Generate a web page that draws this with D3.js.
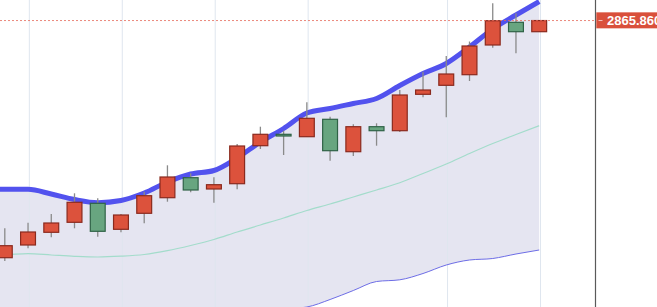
<!DOCTYPE html>
<html>
<head>
<meta charset="utf-8">
<script src="https://cdn.jsdelivr.net/npm/d3@7"></script>
<style>
  html, body { margin: 0; padding: 0; background: #ffffff; overflow: hidden; }
  svg { display: block; }
</style>
</head>
<body>
<svg id="chart" width="657" height="307"></svg>
<script>
// ---- data ----
const days = ["d01","d02","d03","d04","d05","d06","d07","d08","d09","d10","d11","d12",
              "d13","d14","d15","d16","d17","d18","d19","d20","d21","d22","d23","d24"];
const opens  = [2628.7,2641.4,2654.1,2664.1,2683.1,2657.1,2673.1,2688.7,2708.7,2697.4,2702.7,2740.7,
                2752.1,2749.7,2767.1,2734.7,2759.7,2755.7,2792.1,2801.1,2811.7,2841.4,2864.1,2854.7];
const closes = [2640.7,2654.4,2663.4,2684.1,2655.1,2671.4,2690.7,2709.4,2696.4,2701.7,2740.4,2752.1,
                2750.4,2768.1,2735.7,2759.7,2755.7,2791.4,2796.4,2812.4,2840.4,2865.7,2854.7,2865.86];
const lows   = [2625.4,2638.1,2649.1,2658.1,2649.7,2654.1,2663.1,2684.7,2694.1,2683.7,2697.1,2737.4,
                2731.4,2749.7,2725.7,2730.4,2740.7,2754.4,2789.1,2769.1,2805.4,2838.7,2833.1,2854.7];
const highs  = [2658.1,2663.7,2672.4,2693.1,2688.1,2672.4,2694.7,2721.1,2713.1,2709.1,2742.4,2759.7,
                2755.7,2784.1,2769.7,2762.1,2763.1,2796.4,2814.7,2830.4,2844.9,2883.1,2873.1,2865.86];
// Bollinger bands; first value belongs to the (off-screen) day before d01
const bandDays = ["d00"].concat(days);
const upper  = [2697.1,2697.1,2697.1,2692.4,2686.9,2683.7,2685.9,2693.4,2704.4,2712.4,2715.9,2728.4,2744.4,
                2757.9,2773.4,2777.9,2782.9,2787.9,2800.9,2812.9,2822.9,2839.4,2857.4,2871.4,2884.9];
const middle = [2631.5,2631.7,2632.7,2631.4,2630.1,2629.4,2630.2,2631.9,2635.7,2640.9,2646.9,2654.4,2661.4,
                2668.4,2675.9,2682.4,2689.4,2696.4,2703.7,2712.9,2722.4,2732.9,2742.9,2751.9,2760.7];
const lower  = [2566.0,2566.3,2568.3,2570.4,2573.3,2575.1,2574.5,2570.4,2567.0,2569.4,2576.4,2577.4,2576.9,
                2577.4,2579.4,2586.9,2595.9,2604.9,2606.6,2612.9,2621.4,2626.4,2627.9,2632.4,2636.4];
const gridDays = ["d02","d06","d10","d14","d20","d24"];
const lastPrice = 2865.86;
const lastLabel = "2865.860";

// ---- layout ----
const W = 657, H = 307;
const axisX = 595.5;
const svg = d3.select("#chart");

const idx = d => days.indexOf(d);
const xi = d3.scaleLinear().domain([0, days.length - 1]).range([4.8, 539.2]);
const x = d => xi(d === "d00" ? -1 : idx(d));
const y = d3.scaleLinear().domain([2579.4, 2886.4]).range([H, 0]);
const step = xi(1) - xi(0);
const bodyW = step * 0.64;

const defs = svg.append("defs");
defs.append("clipPath").attr("id", "plotClip")
  .append("rect").attr("x", 0).attr("y", 0).attr("width", axisX).attr("height", H);

const plot = svg.append("g").attr("clip-path", "url(#plotClip)");

const bands = bandDays.map((d, i) => ({ d, u: upper[i], m: middle[i], l: lower[i] }));

// band area
plot.append("path")
  .datum(bands)
  .attr("fill", "#e5e5f1")
  .attr("d", d3.area().x(b => x(b.d)).y0(b => y(b.l)).y1(b => y(b.u)).curve(d3.curveMonotoneX));

// vertical grid lines
plot.selectAll("line.grid").data(gridDays).join("line")
  .attr("class", "grid")
  .attr("x1", d => x(d) + 1.3).attr("x2", d => x(d) + 1.3)
  .attr("y1", 0).attr("y2", H)
  .attr("stroke", "#dfe6ef").attr("stroke-width", 1);

// band lines
plot.append("path").datum(bands)
  .attr("fill", "none").attr("stroke", "#6d6de6").attr("stroke-width", 1)
  .attr("d", d3.line().x(b => x(b.d)).y(b => y(b.l)).curve(d3.curveMonotoneX));
plot.append("path").datum(bands)
  .attr("fill", "none").attr("stroke", "#a3dccb").attr("stroke-width", 1.2)
  .attr("d", d3.line().x(b => x(b.d)).y(b => y(b.m)).curve(d3.curveMonotoneX));
plot.append("path").datum(bands)
  .attr("fill", "none").attr("stroke", "#5252ee").attr("stroke-width", 5)
  .attr("stroke-linejoin", "round")
  .attr("d", d3.line().x(b => x(b.d)).y(b => y(b.u)).curve(d3.curveMonotoneX));

// candles
const candles = days.map((d, i) => ({ d, o: opens[i], c: closes[i], l: lows[i], h: highs[i] }));
const g = plot.selectAll("g.candle").data(candles).join("g").attr("class", "candle");
g.append("line")
  .attr("x1", c => x(c.d)).attr("x2", c => x(c.d))
  .attr("y1", c => y(c.h)).attr("y2", c => y(c.l))
  .attr("stroke", "#8a8a8a").attr("stroke-width", 1.3);
g.append("rect")
  .attr("x", c => x(c.d) - bodyW / 2)
  .attr("y", c => y(Math.max(c.o, c.c)))
  .attr("width", bodyW)
  .attr("height", c => Math.max(1.5, Math.abs(y(c.o) - y(c.c))))
  .attr("fill", c => c.c >= c.o ? "#dc523c" : "#68a580")
  .attr("stroke", c => c.c >= c.o ? "#8a2a1e" : "#2f6246")
  .attr("stroke-width", 1.2);

// last price dashed line
svg.append("line")
  .attr("x1", 0).attr("x2", axisX)
  .attr("y1", y(lastPrice)).attr("y2", y(lastPrice))
  .attr("stroke", "#e46a5a").attr("stroke-width", 0.8)
  .attr("stroke-dasharray", "2,2");

// right axis line
svg.append("line")
  .attr("x1", axisX).attr("x2", axisX).attr("y1", 0).attr("y2", H)
  .attr("stroke", "#5a5a5a").attr("stroke-width", 1.2);

// price label
const lblY = y(lastPrice);
svg.append("rect")
  .attr("x", axisX + 0.8).attr("y", lblY - 8.2)
  .attr("width", W - axisX).attr("height", 16)
  .attr("fill", "#d9503b");
svg.append("line")
  .attr("x1", axisX + 3).attr("x2", axisX + 7)
  .attr("y1", lblY).attr("y2", lblY)
  .attr("stroke", "#f3c4bc").attr("stroke-width", 1);
svg.append("text")
  .attr("x", axisX + 11.5).attr("y", lblY + 4.8)
  .attr("fill", "#ffffff")
  .attr("font-family", "Liberation Sans, Arial, sans-serif")
  .attr("font-size", 13).attr("font-weight", "bold")
  .text(lastLabel);
</script>
</body>
</html>
